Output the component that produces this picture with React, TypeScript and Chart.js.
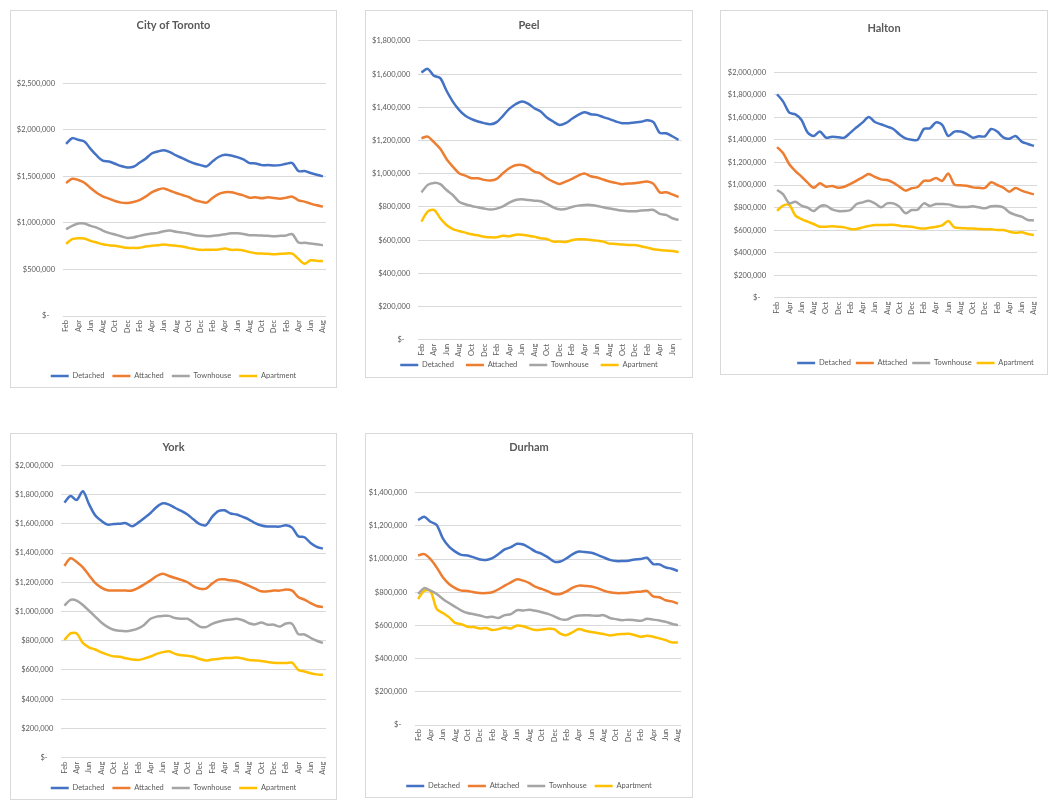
import React, { useEffect, useRef } from 'react';
import { Chart, registerables } from 'chart.js';
Chart.register(...registerables);

const months = ['Feb','Mar','Apr','May','Jun','Jul','Aug','Sep','Oct','Nov','Dec',
  'Jan','Feb','Mar','Apr','May','Jun','Jul','Aug','Sep','Oct','Nov','Dec',
  'Jan','Feb','Mar','Apr','May','Jun','Jul','Aug','Sep','Oct','Nov','Dec',
  'Jan','Feb','Mar','Apr','May','Jun','Jul','Aug'];
const peelMonths = months.slice(0, 42);

const seriesNames = ['Detached', 'Attached', 'Townhouse', 'Apartment'];
const seriesColors = ['#4472C4', '#ED7D31', '#A5A5A5', '#FFC000'];

const torontoDetached = [1850000,1910000,1893000,1875000,1796000,1725000,1668000,1660000,1636000,1611000,1596000,1603000,1646000,1689000,1746000,1768000,1782000,1761000,1725000,1696000,1664000,1639000,1621000,1607000,1664000,1711000,1732000,1725000,1707000,1682000,1643000,1639000,1621000,1621000,1618000,1621000,1636000,1643000,1557000,1557000,1536000,1518000,1500000];
const torontoAttached = [1429000,1475000,1461000,1432000,1375000,1325000,1286000,1261000,1236000,1218000,1214000,1225000,1246000,1282000,1329000,1357000,1371000,1346000,1321000,1300000,1279000,1246000,1229000,1218000,1271000,1311000,1329000,1329000,1314000,1296000,1271000,1275000,1264000,1275000,1268000,1261000,1271000,1282000,1243000,1229000,1207000,1189000,1175000];
const torontoTownhouse = [932000,968000,993000,993000,968000,950000,918000,893000,875000,857000,839000,843000,861000,875000,886000,893000,911000,918000,904000,896000,886000,871000,861000,857000,861000,868000,879000,889000,889000,882000,868000,868000,864000,861000,857000,861000,866000,880000,790000,786000,779000,771000,761000];
const torontoApartment = [775000,825000,836000,832000,807000,789000,771000,761000,754000,743000,732000,732000,732000,746000,754000,761000,768000,761000,754000,746000,732000,721000,711000,711000,711000,714000,725000,711000,711000,704000,686000,675000,671000,668000,664000,668000,672000,670000,612000,562000,598000,594000,588000];

const peelDetached = [1610000,1632000,1590000,1576000,1500000,1435000,1385000,1349000,1329000,1315000,1305000,1298000,1311000,1349000,1391000,1419000,1435000,1423000,1395000,1375000,1339000,1315000,1294000,1305000,1331000,1355000,1371000,1359000,1355000,1341000,1329000,1315000,1305000,1305000,1309000,1313000,1323000,1311000,1246000,1244000,1226000,1204000];
const peelAttached = [1214000,1224000,1190000,1150000,1089000,1043000,1003000,989000,973000,973000,963000,959000,969000,1003000,1033000,1051000,1053000,1039000,1013000,1001000,973000,953000,939000,953000,969000,989000,1001000,985000,977000,965000,953000,945000,937000,941000,943000,949000,953000,939000,888000,888000,876000,860000];
const peelTownhouse = [888000,933000,945000,937000,902000,872000,832000,816000,806000,798000,790000,784000,790000,804000,826000,842000,846000,842000,838000,834000,818000,798000,786000,788000,800000,808000,812000,812000,806000,798000,790000,784000,778000,774000,774000,778000,780000,782000,758000,752000,732000,722000];
const peelApartment = [712000,772000,782000,732000,691000,667000,655000,645000,635000,629000,621000,617000,617000,627000,623000,633000,633000,627000,621000,611000,607000,591000,591000,589000,599000,605000,605000,601000,597000,591000,579000,577000,573000,571000,571000,563000,555000,545000,541000,537000,535000,527000];

const haltonDetached = [1805000,1740000,1642000,1627000,1577000,1465000,1435000,1474000,1420000,1429000,1423000,1420000,1465000,1512000,1556000,1604000,1559000,1539000,1518000,1497000,1450000,1414000,1402000,1402000,1497000,1503000,1556000,1533000,1435000,1474000,1474000,1453000,1420000,1432000,1432000,1497000,1474000,1423000,1411000,1435000,1385000,1364000,1346000];
const haltonAttached = [1337000,1281000,1184000,1124000,1074000,1021000,976000,1015000,985000,991000,976000,985000,1009000,1039000,1068000,1098000,1071000,1050000,1045000,1021000,985000,950000,971000,982000,1036000,1039000,1062000,1036000,1101000,1003000,997000,994000,979000,976000,974000,1024000,1000000,976000,941000,974000,950000,932000,917000];
const haltonTownhouse = [956000,917000,837000,852000,817000,799000,769000,811000,817000,784000,769000,769000,778000,831000,846000,861000,837000,802000,837000,837000,808000,749000,778000,781000,837000,814000,831000,831000,828000,814000,805000,805000,811000,802000,793000,811000,814000,802000,757000,734000,719000,689000,686000];
const haltonApartment = [772000,817000,823000,728000,698000,675000,654000,630000,630000,633000,630000,624000,610000,610000,624000,636000,645000,645000,645000,648000,639000,633000,630000,618000,613000,621000,630000,642000,680000,624000,618000,615000,613000,610000,607000,607000,601000,601000,586000,577000,580000,565000,556000];

const yorkDetached = [1745000,1790000,1763000,1823000,1734000,1658000,1620000,1594000,1598000,1601000,1604000,1583000,1608000,1640000,1674000,1715000,1740000,1731000,1708000,1688000,1663000,1629000,1597000,1590000,1647000,1686000,1692000,1670000,1663000,1647000,1629000,1604000,1588000,1581000,1581000,1581000,1590000,1574000,1515000,1508000,1469000,1442000,1430000];
const yorkAttached = [1312000,1364000,1339000,1302000,1248000,1195000,1163000,1145000,1143000,1143000,1143000,1143000,1161000,1186000,1213000,1243000,1259000,1243000,1229000,1216000,1200000,1172000,1156000,1156000,1191000,1218000,1220000,1213000,1209000,1193000,1175000,1156000,1138000,1138000,1143000,1143000,1150000,1143000,1099000,1081000,1058000,1038000,1031000];
const yorkTownhouse = [1040000,1080000,1075000,1045000,1005000,965000,925000,895000,875000,868000,865000,872000,885000,910000,950000,965000,970000,970000,955000,950000,950000,925000,897000,893000,915000,930000,940000,945000,950000,940000,920000,912000,925000,910000,910000,897000,918000,915000,845000,843000,820000,800000,785000];
const yorkApartment = [805000,850000,850000,785000,755000,740000,720000,705000,693000,690000,680000,672000,668000,678000,692000,710000,722000,728000,710000,700000,698000,690000,675000,665000,672000,675000,682000,682000,685000,678000,668000,665000,662000,655000,650000,648000,648000,650000,600000,590000,578000,570000,567000];

const durhamDetached = [1235000,1255000,1225000,1205000,1125000,1075000,1045000,1025000,1022000,1010000,997000,995000,1005000,1030000,1058000,1072000,1092000,1088000,1068000,1045000,1032000,1010000,985000,985000,1005000,1030000,1045000,1042000,1038000,1025000,1010000,995000,988000,988000,990000,998000,1000000,1008000,970000,968000,950000,942000,928000];
const durhamAttached = [1022000,1030000,1000000,950000,890000,850000,825000,810000,808000,800000,795000,795000,800000,818000,840000,860000,878000,870000,855000,832000,820000,805000,790000,790000,805000,828000,840000,838000,835000,825000,810000,800000,795000,795000,797000,802000,803000,808000,775000,770000,752000,745000,732000];
const durhamTownhouse = [790000,825000,810000,790000,760000,735000,712000,690000,675000,668000,660000,650000,652000,645000,662000,668000,692000,690000,695000,688000,680000,670000,655000,638000,635000,652000,660000,662000,660000,658000,662000,645000,638000,632000,635000,632000,628000,640000,635000,630000,622000,610000,602000];
const durhamApartment = [760000,810000,808000,700000,675000,650000,615000,608000,592000,590000,582000,585000,572000,578000,588000,582000,600000,595000,582000,572000,575000,580000,578000,550000,542000,560000,578000,568000,560000,555000,548000,540000,545000,548000,550000,542000,532000,538000,532000,522000,512000,498000,497000];

const FONT = "Lato, 'Liberation Sans', Arial, sans-serif";
const TEXT = '#595959';
const GRID = '#d9d9d9';
const TITLE_SIZE = 11;
const TITLE_LH = TITLE_SIZE * 1.2;
const LEG_SIZE = 7.5;
const TICK_SIZE = 7.5;

type PanelCfg = {
  title: string;
  labels: string[];
  series: number[][];
  yMax: number;
  yStep: number;
  box: number[];
  ca: number[];
  titleY: number;
  legendY: number;
  legendAlign: 'center' | 'end' | 'start';
  legendPad: number;
};

const panels: PanelCfg[] = [
  { title: 'City of Toronto', labels: months, series: [torontoDetached, torontoAttached, torontoTownhouse, torontoApartment],
    yMax: 2500000, yStep: 500000, box: [10, 10, 337, 388], ca: [63, 83.3, 327.3, 316], titleY: 25, legendY: 376, legendAlign: 'center', legendPad: 8 },
  { title: 'Peel', labels: peelMonths, series: [peelDetached, peelAttached, peelTownhouse, peelApartment],
    yMax: 1800000, yStep: 200000, box: [365, 10, 693, 378], ca: [418.3, 41, 681.7, 339.7], titleY: 25, legendY: 365, legendAlign: 'center', legendPad: 12 },
  { title: 'Halton', labels: months, series: [haltonDetached, haltonAttached, haltonTownhouse, haltonApartment],
    yMax: 2000000, yStep: 200000, box: [720, 10, 1048, 375], ca: [774, 72.3, 1038.7, 297.7], titleY: 28, legendY: 363, legendAlign: 'end', legendPad: 5 },
  { title: 'York', labels: months, series: [yorkDetached, yorkAttached, yorkTownhouse, yorkApartment],
    yMax: 2000000, yStep: 200000, box: [10, 433, 337, 800], ca: [61.3, 465.3, 328, 757.7], titleY: 447, legendY: 788, legendAlign: 'center', legendPad: 8 },
  { title: 'Durham', labels: months, series: [durhamDetached, durhamAttached, durhamTownhouse, durhamApartment],
    yMax: 1400000, yStep: 200000, box: [365, 433, 693, 798], ca: [415, 492.7, 681, 725], titleY: 447, legendY: 786, legendAlign: 'center', legendPad: 8 },
];

const noClip = (scale: any) => { scale._computeLabelArea = () => undefined; };

function Panel({ cfg }: { cfg: PanelCfg }) {
  const ref = useRef<HTMLCanvasElement>(null);
  const [bl, bt, br, bb] = cfg.box;
  const W = br - bl - 2;
  const H = bb - bt - 2 + 20;
  useEffect(() => {
    const ox = bl + 1, oy = bt + 1;
    const caL = cfg.ca[0] - ox, caT = cfg.ca[1] - oy, caR = cfg.ca[2] - ox, caB = cfg.ca[3] - oy;
    const padR = W - caR;
    const padL = padR;
    const tY = cfg.titleY - oy;
    const lY = cfg.legendY - oy;
    const titleTop = tY - TITLE_LH / 2;
    const titleBottom = caT - (tY + TITLE_LH / 2);
    const legendBottom = lY + 10 + LEG_SIZE / 2;
    const padB = H - legendBottom;
    const legendTop = lY - LEG_SIZE / 2 - cfg.legendPad;
    const xH = legendTop - caB;
    const yW = caL - padL;
    const labels = cfg.labels;

    const chart = new Chart(ref.current!, {
      type: 'line',
      data: {
        labels,
        datasets: cfg.series.map((d, i) => ({
          label: seriesNames[i],
          data: d,
          borderColor: seriesColors[i],
          backgroundColor: seriesColors[i],
          borderWidth: 2.5,
          pointRadius: 0,
          pointHoverRadius: 0,
          tension: 0.3,
          fill: false,
        })),
      },
      options: {
        animation: false,
        responsive: true,
        maintainAspectRatio: false,
        layout: { padding: { left: padL, right: padR, top: 0, bottom: padB }, autoPadding: false },
        plugins: {
          title: {
            display: true,
            text: cfg.title,
            color: TEXT,
            font: { family: FONT, size: TITLE_SIZE, weight: 'bold' },
            padding: { top: titleTop, bottom: titleBottom },
          },
          legend: {
            display: true,
            position: 'bottom',
            align: cfg.legendAlign,
            labels: {
              color: TEXT,
              font: { family: FONT, size: LEG_SIZE },
              usePointStyle: true,
              pointStyle: 'line',
              pointStyleWidth: 18,
              padding: cfg.legendPad,
            },
          },
          tooltip: { enabled: false },
        },
        scales: {
          x: {
            type: 'category',
            offset: true,
            grid: { display: false, drawTicks: false },
            border: { display: false },
            ticks: {
              autoSkip: false,
              maxRotation: 90,
              minRotation: 90,
              padding: 4,
              color: TEXT,
              font: { family: FONT, size: TICK_SIZE },
              callback: (_v: any, i: number) => (i % 2 === 0 ? labels[i] : ''),
            },
            afterFit: (scale: any) => { scale.height = xH; noClip(scale); },
          },
          y: {
            min: 0,
            max: cfg.yMax,
            grid: { color: GRID, lineWidth: 1, drawTicks: false },
            border: { display: false },
            ticks: {
              stepSize: cfg.yStep,
              padding: 8,
              color: TEXT,
              font: { family: FONT, size: TICK_SIZE },
              callback: (v: any) => (Number(v) === 0 ? '$-   ' : '$' + Number(v).toLocaleString('en-US')),
            },
            afterFit: (scale: any) => { scale.width = yW; noClip(scale); },
          },
        },
      },
    });
    return () => chart.destroy();
  }, []);
  return (
    <>
      <div style={{ position: 'absolute', left: bl, top: bt, width: br - bl, height: bb - bt, border: '1px solid #d9d9d9', boxSizing: 'border-box', background: '#fff' }} />
      <div style={{ position: 'absolute', left: bl + 1, top: bt + 1, width: W, height: H }}>
        <canvas ref={ref} />
      </div>
    </>
  );
}

export default function App() {
  return (
    <div style={{ position: 'fixed', left: 0, top: 0, width: 1058, height: 809, overflow: 'hidden', background: '#fff' }}>
      {panels.map((p) => <Panel key={p.title} cfg={p} />)}
    </div>
  );
}
